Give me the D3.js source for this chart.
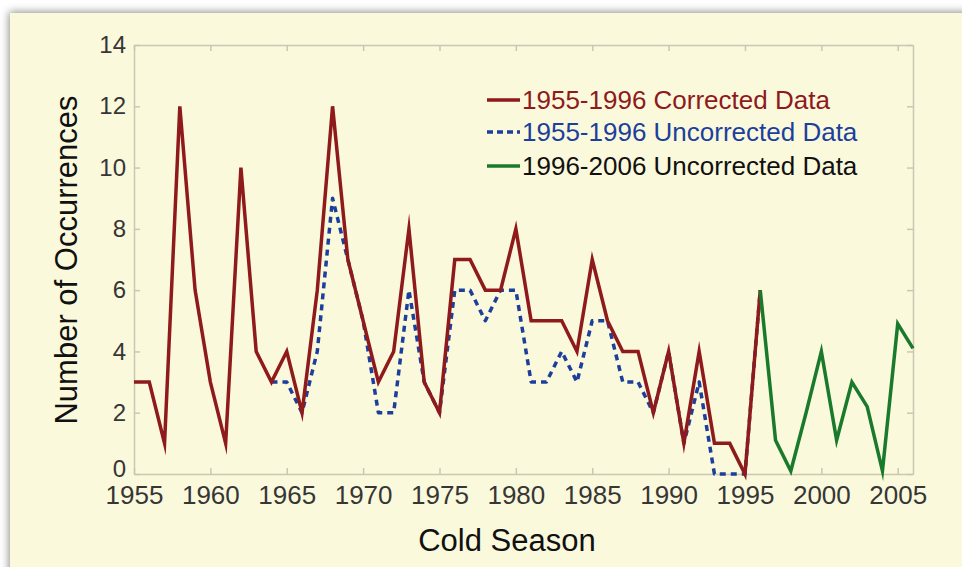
<!DOCTYPE html>
<html>
<head>
<meta charset="utf-8">
<script src="https://cdn.jsdelivr.net/npm/d3@7/dist/d3.min.js"></script>
<style>
  html, body { margin: 0; padding: 0; background: #ffffff; }
  svg { display: block; }
</style>
</head>
<body>
<svg id="chart" width="962" height="567"></svg>
<script>
// ---- data ----
const correctedYears = d3.range(1955, 1997);
const correctedValues = [3, 3, 1, 12, 6, 3, 1, 10, 4, 3,
                         4, 2, 6, 12, 7, 5, 3, 4, 8, 3,
                         2, 7, 7, 6, 6, 8, 5, 5, 5, 4,
                         7, 5, 4, 4, 2, 4, 1, 4, 1, 1,
                         0, 6];
// uncorrected series (identical to the corrected one, hidden beneath it, before 1964)
const uncorrectedYears = d3.range(1964, 1997);
const uncorrectedValues = [3,
                           3, 2, 4, 9, 7, 5, 2, 2, 6, 3,
                           2, 6, 6, 5, 6, 6, 3, 3, 4, 3,
                           5, 5, 3, 3, 2, 4, 1, 3, 0, 0,
                           0, 6];
const recentYears = d3.range(1996, 2007);
const recentValues = [6, 1.1, 0.1, 2, 4, 1.1, 3, 2.2, 0.1, 4.9, 4.1];

const xTicks = [1955, 1960, 1965, 1970, 1975, 1980, 1985, 1990, 1995, 2000, 2005];
const yTicks = [0, 2, 4, 6, 8, 10, 12, 14];

const legendLabels = ["1955-1996 Corrected Data", "1955-1996 Uncorrected Data", "1996-2006 Uncorrected Data"];

// ---- drawing ----
const svg = d3.select("#chart");
const W = 962, H = 567;
const C = { red: "#8e1a1c", blue: "#1d3f9c", green: "#1a7a2c", axis: "#c9c8b2", tick: "#363636", cream: "#fbf9dc" };

const defs = svg.append("defs");
const f = defs.append("filter").attr("id", "shadow").attr("x", "-5%").attr("y", "-5%").attr("width", "110%").attr("height", "110%");
f.append("feDropShadow").attr("dx", -1).attr("dy", -1).attr("stdDeviation", 4).attr("flood-color", "#000").attr("flood-opacity", 0.45);

svg.append("rect").attr("width", W).attr("height", H).attr("fill", "#ffffff");
svg.append("rect").attr("x", 10).attr("y", 13).attr("width", W + 20).attr("height", H + 20)
   .attr("fill", C.cream).attr("filter", "url(#shadow)");

const x = d3.scaleLinear().domain([1955, 2006]).range([134, 913]);
const y = d3.scaleLinear().domain([0, 14]).range([474, 45]);

const font = "'Liberation Sans', Arial, sans-serif";

function styleAxis(g, labels) {
  g.select(".domain").attr("stroke", C.axis).attr("stroke-width", 1.5);
  g.selectAll(".tick line").attr("stroke", C.axis).attr("stroke-width", 1.5);
  if (!labels) g.selectAll(".tick text").remove();
  else g.selectAll(".tick text").attr("fill", C.tick).style("font-family", font);
}
const gx = svg.append("g").attr("transform", `translate(0,${y(0)})`)
  .call(d3.axisBottom(x).tickValues(xTicks).tickFormat(d3.format("d")).tickSize(-6).tickSizeOuter(0).tickPadding(12));
styleAxis(gx, true);
gx.selectAll(".tick text").style("font-size", "26px");

const gxt = svg.append("g").attr("transform", `translate(0,${y(14)})`)
  .call(d3.axisTop(x).tickValues(xTicks).tickSize(-6).tickSizeOuter(0));
styleAxis(gxt, false);

const gy = svg.append("g").attr("transform", `translate(${x(1955)},0)`)
  .call(d3.axisLeft(y).tickValues(yTicks).tickSize(-6).tickSizeOuter(0).tickPadding(8));
styleAxis(gy, true);
gy.selectAll(".tick text").style("font-size", "24px");
gy.selectAll(".tick").filter(d => d === 0).select("text").attr("dy", "0.1em");

const gyr = svg.append("g").attr("transform", `translate(${x(2006)},0)`)
  .call(d3.axisRight(y).tickValues(yTicks).tickSize(-6).tickSizeOuter(0));
styleAxis(gyr, false);

// lines
const line = d3.line().x(d => x(d[0])).y(d => y(d[1]));
const zip = (a, b) => a.map((v, i) => [v, b[i]]);

svg.append("path").datum(zip(uncorrectedYears, uncorrectedValues))
  .attr("d", line).attr("fill", "none").attr("stroke", C.blue).attr("stroke-width", 3.5)
  .attr("stroke-dasharray", "6,5").attr("stroke-linejoin", "round");
svg.append("path").datum(zip(correctedYears, correctedValues))
  .attr("d", line).attr("fill", "none").attr("stroke", C.red).attr("stroke-width", 3.5)
  .attr("stroke-linejoin", "miter").attr("stroke-miterlimit", 10);
svg.append("path").datum(zip(recentYears, recentValues))
  .attr("d", line).attr("fill", "none").attr("stroke", C.green).attr("stroke-width", 3.5)
  .attr("stroke-linejoin", "miter").attr("stroke-miterlimit", 10);

// axis titles
svg.append("text").attr("x", 507).attr("y", 551).attr("text-anchor", "middle")
  .style("font-family", font).style("font-size", "31px").attr("fill", "#111").text("Cold Season");
svg.append("text").attr("transform", "translate(77,260) rotate(-90)").attr("text-anchor", "middle")
  .style("font-family", font).style("font-size", "31px").attr("fill", "#111").text("Number of Occurrences");

// legend
const legColors = [C.red, C.blue, C.green];
const legText = [C.red, C.blue, "#111111"];
const legDash = [null, "6,4", null];
const legY = [100, 132, 166];
legendLabels.forEach((t, i) => {
  svg.append("line").attr("x1", 487).attr("x2", 520).attr("y1", legY[i]).attr("y2", legY[i])
    .attr("stroke", legColors[i]).attr("stroke-width", 3.5).attr("stroke-dasharray", legDash[i]);
  svg.append("text").attr("x", 522).attr("y", legY[i]).attr("dy", "0.36em")
    .style("font-family", font).style("font-size", "26px").attr("fill", legText[i]).text(t);
});
</script>
</body>
</html>
